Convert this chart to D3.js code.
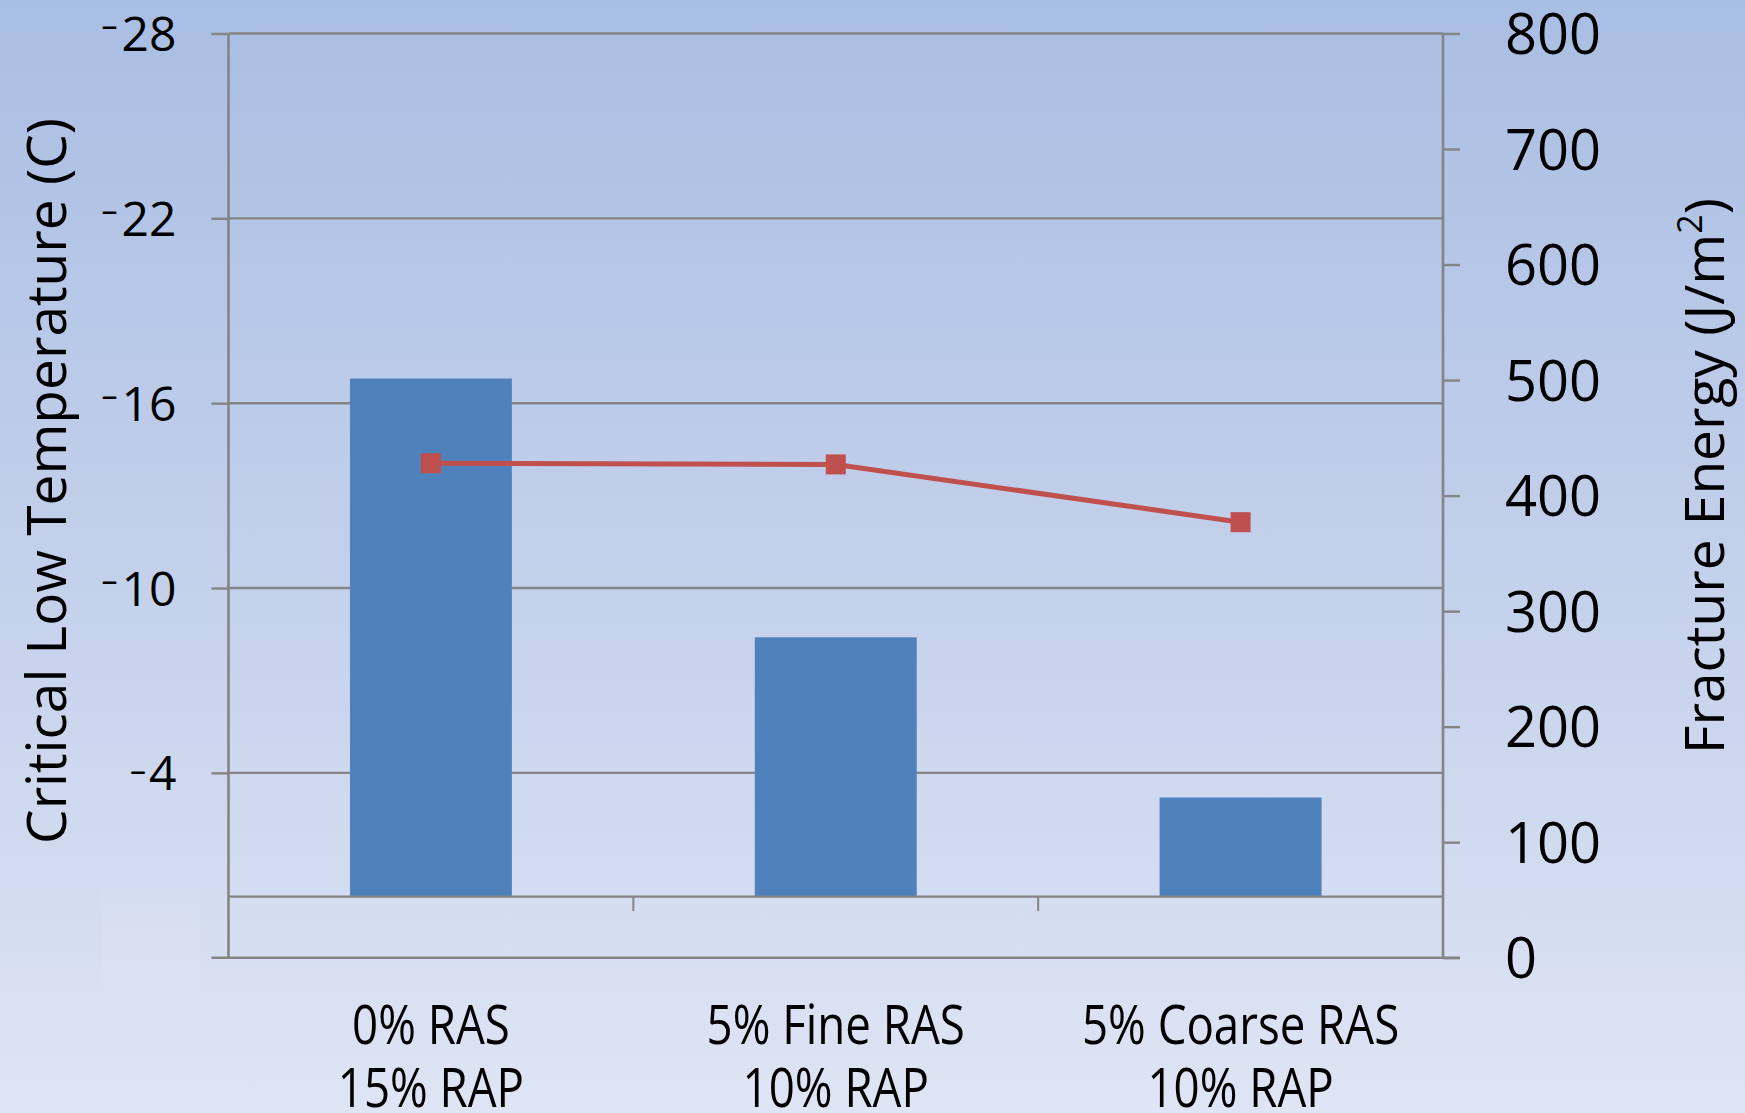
<!DOCTYPE html>
<html>
<head>
<meta charset="utf-8">
<script src="https://cdn.jsdelivr.net/npm/d3@7/dist/d3.min.js"></script>
<style>
  html, body { margin: 0; padding: 0; background: #c4d1eb; }
  svg { display: block; }
  text { font-family: "Open Sans", "DejaVu Sans", sans-serif; fill: #000; }
</style>
</head>
<body>
<svg id="chart" width="1745" height="1113"></svg>
<script>
// Mix designs on the category axis (two-line labels)
const categories = ["0% RAS|15% RAP", "5% Fine RAS|10% RAP", "5% Coarse RAS|10% RAP"];
// Critical low temperature, °C (bars, left axis, reversed)
const criticalTemp = [-16.8, -8.4, -3.2];
// Fracture energy, J/m² (line, right axis)
const fractureEnergy = [428, 427, 377];
// Axis ticks
const tempTicks = [-28, -22, -16, -10, -4];
const tempDomain = [2, -28];
const energyTicks = [0, 100, 200, 300, 400, 500, 600, 700, 800];
const energyDomain = [0, 800];

const W = 1745, H = 1113;
const plot = { left: 228.5, right: 1443, top: 33.5, bottom: 957.7 };
const gridColor = "#848484";
const barColor = "#4f81bd";
const lineColor = "#c0504d";

const svg = d3.select("#chart");

// background gradient
const defs = svg.append("defs");
const grad = defs.append("linearGradient")
  .attr("id", "bg").attr("x1", 0).attr("y1", 0).attr("x2", 0).attr("y2", 1);
grad.append("stop").attr("offset", "0%").attr("stop-color", "#a9bee3");
grad.append("stop").attr("offset", "50%").attr("stop-color", "#c3d0eb");
grad.append("stop").attr("offset", "100%").attr("stop-color", "#dee5f4");
svg.append("rect").attr("width", W).attr("height", H).attr("fill", "url(#bg)");

// faint light patch in the lower-left corner
svg.append("rect")
  .attr("x", 102).attr("y", 888).attr("width", 98).attr("height", 98)
  .attr("fill", "#ffffff").attr("opacity", 0.06);

// scales
const x = d3.scaleBand()
  .domain(d3.range(categories.length))
  .range([plot.left, plot.right])
  .paddingInner(0.6)
  .paddingOuter(0.3);

const yT = d3.scaleLinear().domain(tempDomain).range([plot.bottom, plot.top]);
const yE = d3.scaleLinear().domain(energyDomain).range([plot.bottom, plot.top]);

// horizontal gridlines at the temperature ticks
svg.append("g").selectAll("line").data(tempTicks).join("line")
  .attr("x1", plot.left).attr("x2", plot.right)
  .attr("y1", d => yT(d)).attr("y2", d => yT(d))
  .attr("stroke", gridColor).attr("stroke-width", 2.4);

// bottom frame line (extends beyond both axes like tick marks)
svg.append("line")
  .attr("x1", plot.left - 17).attr("x2", plot.right + 17)
  .attr("y1", yT(tempDomain[0])).attr("y2", yT(tempDomain[0]))
  .attr("stroke", gridColor).attr("stroke-width", 2.6);

// bars
svg.append("g").selectAll("rect").data(criticalTemp).join("rect")
  .attr("x", (d, i) => x(i))
  .attr("width", x.bandwidth())
  .attr("y", d => Math.min(yT(d), yT(0)))
  .attr("height", d => Math.abs(yT(0) - yT(d)))
  .attr("fill", barColor);

// category axis at temperature 0
const xAxis = d3.axisBottom(x).tickSize(0).tickFormat("");
const gx = svg.append("g").attr("transform", `translate(0,${yT(0)})`).call(xAxis);
gx.select(".domain").attr("stroke", gridColor).attr("stroke-width", 2.4);
// tick marks between categories
const step = x.step();
const boundaries = d3.range(1, categories.length).map(i => plot.left + i * step);
gx.selectAll(".sep").data(boundaries).join("line").attr("class", "sep")
  .attr("x1", d => d).attr("x2", d => d).attr("y1", 0).attr("y2", 15)
  .attr("stroke", gridColor).attr("stroke-width", 2);

// left axis
const leftAxis = d3.axisLeft(yT).tickValues(tempTicks).tickSize(17).tickSizeOuter(0).tickPadding(35);
const gl = svg.append("g").attr("transform", `translate(${plot.left},0)`).call(leftAxis);
gl.select(".domain").remove();
gl.selectAll(".tick line").attr("stroke", gridColor).attr("stroke-width", 2.4);
gl.selectAll(".tick text").each(function (d) {
  const t = d3.select(this);
  const raised = Math.abs(d) >= 10;
  t.text(null).attr("dy", null).attr("y", 17).attr("font-size", 48).attr("text-anchor", "end");
  t.append("tspan").text("\u2013").attr("font-size", 32).attr("dy", raised ? -14 : -8);
  t.append("tspan").text(Math.abs(d)).attr("dy", raised ? 14 : 8).attr("dx", raised ? 4 : 3);
});
svg.append("line")
  .attr("x1", plot.left).attr("x2", plot.left)
  .attr("y1", plot.top).attr("y2", plot.bottom)
  .attr("stroke", gridColor).attr("stroke-width", 2.6);

// right axis
const rightAxis = d3.axisRight(yE).tickValues(energyTicks).tickSize(17).tickSizeOuter(0).tickPadding(45);
const gr = svg.append("g").attr("transform", `translate(${plot.right},0)`).call(rightAxis);
gr.select(".domain").remove();
gr.selectAll(".tick line").attr("stroke", gridColor).attr("stroke-width", 2.4);
gr.selectAll(".tick text").attr("font-size", 56).attr("dy", "0.36em");
svg.append("line")
  .attr("x1", plot.right).attr("x2", plot.right)
  .attr("y1", plot.top).attr("y2", plot.bottom)
  .attr("stroke", gridColor).attr("stroke-width", 2.6);

// fracture energy line + square markers
const cx = i => x(i) + x.bandwidth() / 2;
const line = d3.line().x((d, i) => cx(i)).y(d => yE(d));
svg.append("path").datum(fractureEnergy)
  .attr("d", line).attr("fill", "none")
  .attr("stroke", lineColor).attr("stroke-width", 5);
svg.append("g").selectAll("rect").data(fractureEnergy).join("rect")
  .attr("x", (d, i) => cx(i) - 10).attr("y", d => yE(d) - 10)
  .attr("width", 20).attr("height", 20)
  .attr("fill", lineColor);

// category labels (two lines, condensed)
const labels = svg.append("g");
categories.forEach((c, i) => {
  const lines = c.split("|");
  const g = labels.append("g")
    .attr("transform", `translate(${cx(i)},0) scale(0.83,1)`);
  lines.forEach((s, k) => {
    g.append("text").attr("x", 0).attr("y", 1044 + k * 63)
      .attr("text-anchor", "middle").attr("font-size", 55).text(s);
  });
});

// axis titles
svg.append("text")
  .attr("transform", `translate(66,481) rotate(-90)`)
  .attr("text-anchor", "middle").attr("font-size", 55)
  .text("Critical Low Temperature (C)");

const rt = svg.append("text")
  .attr("transform", `translate(1724,476) rotate(-90)`)
  .attr("text-anchor", "middle").attr("font-size", 55);
rt.append("tspan").text("Fracture Energy (J/m");
rt.append("tspan").text("2").attr("font-size", 34).attr("dy", -22);
rt.append("tspan").text(")").attr("dy", 22);
</script>
</body>
</html>
